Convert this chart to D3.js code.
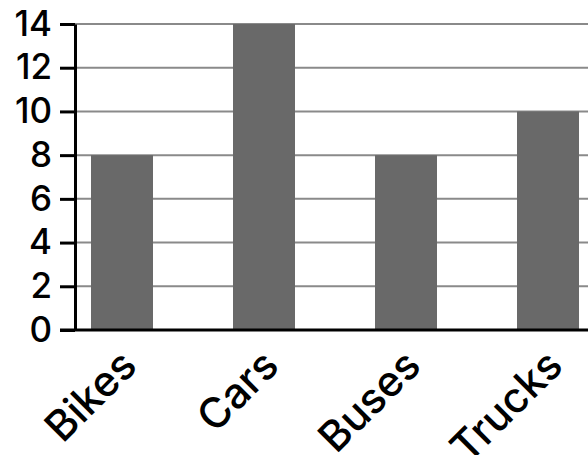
<!DOCTYPE html>
<html>
<head>
<meta charset="utf-8">
<script src="https://cdn.jsdelivr.net/npm/d3@7"></script>
<style>
  html, body { margin: 0; padding: 0; background: #fff; }
  svg { display: block; }
</style>
</head>
<body>
<svg id="chart" width="588" height="455"></svg>
<script>
// Vehicle counts by category
const categories = ["Bikes", "Cars", "Buses", "Trucks"];
const counts = [8, 14, 8, 10];
const yTicks = [0, 2, 4, 6, 8, 10, 12, 14];

(function () {
  const W = 588;
  const plotLeft = 75, plotTop = 24, plotBottom = 330;
  const step = 142, barW = 62;

  const svg = d3.select("#chart");
  const fontFamily = "Inter, 'DejaVu Sans', sans-serif";

  const y = d3.scaleLinear().domain([0, 14]).range([plotBottom, plotTop]);

  // Band scale: plot region runs past the right edge of the canvas
  const padIn = (step - barW) / step;
  const padOut = 16 / step;
  const rightEdge = plotLeft + step * (categories.length - padIn + 2 * padOut);
  const x = d3.scaleBand()
    .domain(categories)
    .range([plotLeft, rightEdge])
    .paddingInner(padIn)
    .paddingOuter(padOut);

  // Horizontal gridlines
  svg.append("g")
    .selectAll("line")
    .data(yTicks.filter(t => t > 0))
    .join("line")
    .attr("x1", plotLeft)
    .attr("x2", W)
    .attr("y1", d => y(d))
    .attr("y2", d => y(d))
    .attr("stroke", "#8a8a8a")
    .attr("stroke-width", 2);

  // Bars
  svg.append("g")
    .selectAll("rect")
    .data(categories.map((c, i) => ({ c, v: counts[i] })))
    .join("rect")
    .attr("x", d => x(d.c))
    .attr("width", x.bandwidth())
    .attr("y", d => y(d.v))
    .attr("height", d => y(0) - y(d.v))
    .attr("fill", "#696969");

  // Y axis
  const yAxis = d3.axisLeft(y)
    .tickValues(yTicks)
    .tickSize(15)
    .tickPadding(8)
    .tickSizeOuter(0);
  const gy = svg.append("g")
    .attr("transform", `translate(${plotLeft},0)`)
    .call(yAxis);
  gy.select(".domain").attr("stroke", "#000").attr("stroke-width", 3);
  gy.selectAll(".tick line").attr("stroke", "#000").attr("stroke-width", 3);
  gy.selectAll(".tick text")
    .attr("fill", "#000")
    .style("font-family", fontFamily)
    .style("font-weight", 500)
    .style("font-size", "35px");

  // Baseline
  svg.append("line")
    .attr("x1", plotLeft - 15)
    .attr("x2", W)
    .attr("y1", y(0))
    .attr("y2", y(0))
    .attr("stroke", "#000")
    .attr("stroke-width", 3);

  // Category labels, rotated
  svg.append("g")
    .selectAll("text")
    .data(categories)
    .join("text")
    .attr("transform", d => `translate(${x(d) + x.bandwidth() / 2 + 17},${plotBottom + 38}) rotate(-45)`)
    .attr("text-anchor", "end")
    .style("font-family", fontFamily)
    .style("font-weight", 500)
    .style("font-size", "42px")
    .attr("fill", "#000")
    .text(d => d);
})();
</script>
</body>
</html>
